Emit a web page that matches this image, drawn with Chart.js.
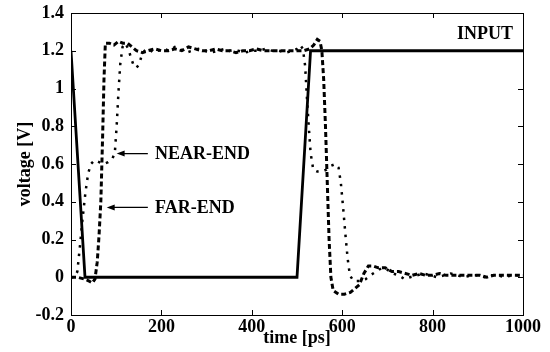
<!DOCTYPE html>
<html lang="en">
<head>
<meta charset="UTF-8">
<title>Voltage vs time</title>
<script src="https://cdn.jsdelivr.net/npm/chart.js"></script>
<style>
  html, body { margin: 0; padding: 0; background: #fff; }
  #wrap { width: 550px; height: 352px; }
</style>
</head>
<body>
<div id="wrap"><canvas id="chart" width="550" height="352"></canvas></div>
<script>
// time in ps, voltage in V
const inputTime = [0, 31, 500, 530, 1000];
const inputVolt = [1.2, 0, 0, 1.2, 1.2];

const nearTime = [0, 8, 14, 20, 26, 32, 38, 44, 52, 62, 72, 82, 92, 97, 101, 105, 109, 114, 120, 127,
  133, 139, 145, 151, 157, 163, 172, 182, 192, 205, 218, 230, 242, 255, 268, 282, 296, 310, 325, 340,
  355, 370, 385, 400, 415, 430, 445, 460, 475, 490, 500, 507, 513, 518, 522, 526, 530, 536, 545, 555,
  565, 575, 585, 592, 597, 602, 607, 612, 617, 625, 640, 652, 662, 675, 688, 700, 712, 725, 738, 750,
  765, 780, 795, 810, 825, 840, 855, 870, 885, 900, 915, 930, 945, 960, 975, 990, 1000];
const nearVolt = [0, 0, 0.03, 0.17, 0.32, 0.45, 0.55, 0.6, 0.62, 0.61, 0.6, 0.61, 0.63, 0.66, 0.8, 0.98, 1.13, 1.22, 1.24, 1.21,
  1.16, 1.12, 1.11, 1.13, 1.18, 1.2, 1.21, 1.19, 1.2, 1.21, 1.2, 1.22, 1.21, 1.19, 1.2, 1.21, 1.2, 1.19, 1.2, 1.21,
  1.2, 1.2, 1.19, 1.2, 1.2, 1.21, 1.2, 1.2, 1.19, 1.2, 1.21, 1.23, 1.21, 1.12, 0.95, 0.8, 0.66, 0.57, 0.56, 0.56,
  0.57, 0.59, 0.6, 0.58, 0.5, 0.37, 0.23, 0.1, 0.01, -0.02, -0.02, -0.01, 0.01, 0.03, 0.05, 0.04, 0.02, 0.01, -0.01, 0,
  0.01, 0.02, 0.01, 0, 0.01, 0.02, 0.01, 0, 0.01, 0.01, 0, 0.01, 0.01, 0, 0.01, 0.01, 0.01];

const farTime = [0, 15, 30, 40, 47, 53, 58, 62, 66, 70, 73, 76, 85, 95, 105, 115, 125, 135, 145, 158,
  170, 185, 200, 215, 230, 245, 260, 275, 290, 305, 320, 335, 350, 365, 380, 395, 410, 425, 440, 455,
  470, 485, 500, 515, 528, 537, 545, 551, 555, 559, 563, 567, 571, 575, 580, 592, 605, 618, 628, 638,
  648, 658, 668, 680, 695, 710, 725, 740, 755, 770, 785, 800, 815, 830, 845, 860, 875, 890, 905, 920,
  935, 950, 965, 980, 1000];
const farVolt = [0, 0, -0.01, -0.02, -0.03, -0.01, 0.08, 0.22, 0.4, 0.75, 1.05, 1.24, 1.24, 1.23, 1.25, 1.24, 1.24, 1.22, 1.2, 1.19,
  1.2, 1.21, 1.2, 1.2, 1.21, 1.2, 1.22, 1.21, 1.2, 1.2, 1.21, 1.2, 1.2, 1.19, 1.2, 1.2, 1.21, 1.2, 1.2, 1.2,
  1.2, 1.2, 1.2, 1.2, 1.21, 1.23, 1.26, 1.25, 1.2, 1.05, 0.8, 0.5, 0.2, 0, -0.07, -0.09, -0.09, -0.08, -0.06, -0.04,
  0.02, 0.06, 0.06, 0.05, 0.05, 0.03, 0.03, 0.02, 0.01, 0.02, 0.01, 0.01, 0.02, 0.01, 0.01, 0.01, 0.01, 0.01, 0.01, 0,
  0.01, 0.01, 0.01, 0.01, 0.01];

const xTicks = [0, 200, 400, 600, 800, 1000];
const xTickLabels = ['0', '200', '400', '600', '800', '1000'];
const yTicks = [-0.2, 0, 0.2, 0.4, 0.6, 0.8, 1, 1.2, 1.4];
const yTickLabels = ['-0.2', '0', '0.2', '0.4', '0.6', '0.8', '1', '1.2', '1.4'];

const FONT = '"Liberation Serif", "Times New Roman", serif';

function points(ts, vs) {
  return ts.map((t, i) => ({ x: t, y: vs[i] }));
}

// box with inward ticks, axis titles and the labels/arrows
const decorPlugin = {
  id: 'decor',
  afterDraw(chart) {
    const { ctx, chartArea: a, scales: { x, y } } = chart;
    ctx.save();
    ctx.strokeStyle = '#000';
    ctx.lineWidth = 1;
    ctx.strokeRect(a.left + 0.5, a.top + 0.5, a.right - a.left, a.bottom - a.top);
    const tl = 5;
    ctx.beginPath();
    xTicks.forEach(v => {
      const px = Math.round(x.getPixelForValue(v)) + 0.5;
      ctx.moveTo(px, a.bottom); ctx.lineTo(px, a.bottom - tl);
      ctx.moveTo(px, a.top); ctx.lineTo(px, a.top + tl);
    });
    yTicks.forEach(v => {
      const py = Math.round(y.getPixelForValue(v)) + 0.5;
      ctx.moveTo(a.left, py); ctx.lineTo(a.left + tl, py);
      ctx.moveTo(a.right, py); ctx.lineTo(a.right - tl, py);
    });
    ctx.stroke();

    ctx.fillStyle = '#000';
    ctx.font = 'bold 18px ' + FONT;
    ctx.textAlign = 'center';
    ctx.textBaseline = 'middle';
    ctx.fillText('time [ps]', (a.left + a.right) / 2, 338);
    ctx.save();
    ctx.translate(25, (a.top + a.bottom) / 2);
    ctx.rotate(-Math.PI / 2);
    ctx.fillText('voltage [V]', 0, 0);
    ctx.restore();

    // labels
    ctx.textAlign = 'right';
    ctx.fillText('INPUT', x.getPixelForValue(978), y.getPixelForValue(1.286));
    ctx.textAlign = 'left';
    const arrows = [
      { text: 'NEAR-END', tip: [101, 0.655], tail: 170 },
      { text: 'FAR-END', tip: [79, 0.37], tail: 170 }
    ];
    ctx.lineWidth = 1.3;
    arrows.forEach(ar => {
      const ty = y.getPixelForValue(ar.tip[1]);
      const tx = x.getPixelForValue(ar.tip[0]);
      const ex = x.getPixelForValue(ar.tail);
      ctx.beginPath();
      ctx.moveTo(ex, ty); ctx.lineTo(tx + 6, ty);
      ctx.stroke();
      ctx.beginPath();
      ctx.moveTo(tx, ty); ctx.lineTo(tx + 8, ty - 3); ctx.lineTo(tx + 8, ty + 3);
      ctx.closePath();
      ctx.fill();
      ctx.fillText(ar.text, x.getPixelForValue(186), ty + 1);
    });
    ctx.restore();
  }
};

new Chart(document.getElementById('chart'), {
  type: 'line',
  data: {
    datasets: [
      {
        label: 'INPUT',
        data: points(inputTime, inputVolt),
        borderColor: '#000',
        borderWidth: 2.8
      },
      {
        label: 'NEAR-END',
        data: points(nearTime, nearVolt),
        borderColor: '#000',
        borderWidth: 2.5,
        borderDash: [2.5, 6]
      },
      {
        label: 'FAR-END',
        data: points(farTime, farVolt),
        borderColor: '#000',
        borderWidth: 3,
        borderDash: [5, 3]
      }
    ]
  },
  options: {
    responsive: false,
    animation: false,
    events: [],
    layout: { padding: { top: 13, right: 27, left: 0, bottom: 0 } },
    elements: { point: { radius: 0 }, line: { tension: 0, fill: false } },
    plugins: { legend: { display: false }, tooltip: { enabled: false } },
    scales: {
      x: {
        type: 'linear',
        min: 0,
        max: 1000,
        afterBuildTicks: s => { s.ticks = xTicks.map(v => ({ value: v })); },
        afterFit: s => { s.height = 37; s.paddingLeft = 0; s.paddingRight = 0; },
        grid: { display: false, drawTicks: false },
        border: { display: false },
        ticks: {
          color: '#000',
          padding: 2,
          maxRotation: 0,
          font: { family: FONT, size: 18, weight: 'bold' },
          callback: (v, i) => xTickLabels[i]
        }
      },
      y: {
        type: 'linear',
        min: -0.2,
        max: 1.4,
        afterBuildTicks: s => { s.ticks = yTicks.map(v => ({ value: v })); },
        afterFit: s => { s.width = 71; s.paddingTop = 0; s.paddingBottom = 0; },
        grid: { display: false, drawTicks: false },
        border: { display: false },
        ticks: {
          color: '#000',
          padding: 7,
          font: { family: FONT, size: 18, weight: 'bold' },
          callback: (v, i) => yTickLabels[i]
        }
      }
    }
  },
  plugins: [decorPlugin]
});
</script>
</body>
</html>
